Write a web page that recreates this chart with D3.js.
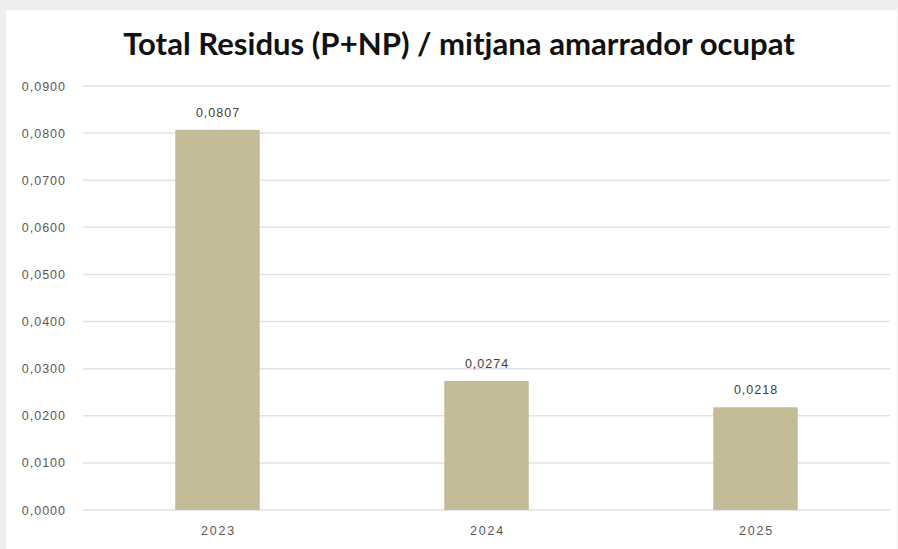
<!DOCTYPE html>
<html><head><meta charset="utf-8">
<script src="https://cdn.jsdelivr.net/npm/d3@7"></script>
<style>body{margin:0;background:#eeeeee;}svg{display:block;}</style>
</head><body>
<script>
const categories = ["2023", "2024", "2025"];
const values = [0.0807, 0.0274, 0.0218];
const yTicks = [0, 0.01, 0.02, 0.03, 0.04, 0.05, 0.06, 0.07, 0.08, 0.09];
const title = "Total Residus (P+NP) / mitjana amarrador ocupat";

const W = 898, H = 549;
const svg = d3.select("body").append("svg").attr("width", W).attr("height", H);
svg.append("rect").attr("x", 0).attr("y", 0).attr("width", W).attr("height", H).attr("fill", "#eeeeee");
svg.append("rect").attr("x", 6).attr("y", 10).attr("width", W - 7).attr("height", H - 10).attr("fill", "#ffffff");

const fmt = d => d.toFixed(4).replace(".", ",");
const x = d3.scaleBand().domain(categories).range([83, 890]).paddingInner(0.686).paddingOuter(0.343);
const y = d3.scaleLinear().domain([0, 0.09]).range([510, 86]);
const lblFont = "Liberation Sans, Arial, sans-serif";

// gridlines
svg.append("g").selectAll("line").data(yTicks).join("line")
  .attr("x1", 83).attr("x2", 890)
  .attr("y1", d => y(d)).attr("y2", d => y(d))
  .attr("stroke", "#e2e2e2").attr("stroke-width", 1.5);

// y axis labels
const yAxis = d3.axisLeft(y).tickValues(yTicks).tickFormat(fmt).tickSize(0).tickPadding(0);
const gy = svg.append("g").attr("transform", "translate(66,0)").call(yAxis);
gy.select(".domain").remove();
gy.selectAll("text").attr("font-family", lblFont).attr("font-size", 12.5)
  .attr("letter-spacing", 1).attr("fill", "#595959");

// x axis labels
const xAxis = d3.axisBottom(x).tickSize(0).tickPadding(0);
const gx = svg.append("g").attr("transform", "translate(1,526)").call(xAxis);
gx.select(".domain").remove();
gx.selectAll("text").attr("font-family", lblFont).attr("font-size", 12.5)
  .attr("letter-spacing", 1.8).attr("fill", "#595959");

// bars
svg.append("g").selectAll("rect").data(values).join("rect")
  .attr("x", (d, i) => x(categories[i]))
  .attr("width", x.bandwidth())
  .attr("y", d => y(d))
  .attr("height", d => y(0) - y(d))
  .attr("fill", "#c4bc96");

// value labels
svg.append("g").selectAll("text").data(values).join("text")
  .attr("x", (d, i) => x(categories[i]) + x.bandwidth() / 2 + 0.5)
  .attr("y", d => y(d) - 13)
  .attr("text-anchor", "middle")
  .attr("font-family", lblFont).attr("font-size", 12.5).attr("letter-spacing", 1)
  .attr("fill", "#404040")
  .text(fmt);

// title
const t = svg.append("text").attr("x", 459).attr("y", 55).attr("text-anchor", "middle")
  .attr("font-family", "Lato, 'Open Sans', sans-serif").attr("font-weight", "bold")
  .attr("font-size", 28).attr("fill", "#111111").text(title);
const len = t.node().getComputedTextLength();
t.attr("font-size", 28 * 672 / len);
</script>
</body></html>
